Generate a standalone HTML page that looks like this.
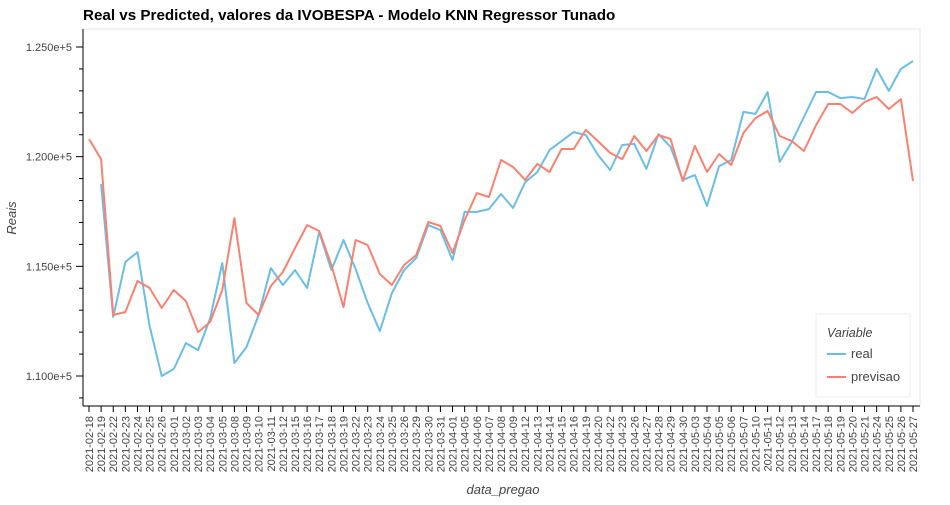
<!DOCTYPE html>
<html><head><meta charset="utf-8"><style>
body{margin:0;background:#fff;}
svg text{font-family:"Liberation Sans",sans-serif;}
</style></head><body>
<svg id="chart" width="950" height="500" xmlns="http://www.w3.org/2000/svg">
<text x="83" y="20" font-size="15.2" font-weight="bold" fill="#000">Real vs Predicted, valores da IVOBESPA - Modelo KNN Regressor Tunado</text>
<rect x="83" y="29" width="837" height="377" fill="none" stroke="#e6e6e6"/>
<g id="yaxis"></g>
<g id="xaxis"></g>
<g id="series"></g>
<text transform="translate(16,218) rotate(-90)" text-anchor="middle" font-size="13" font-style="italic" fill="#444">Reais</text>
<text x="503" y="494" text-anchor="middle" font-size="13" font-style="italic" fill="#444">data_pregao</text>
<g>
<rect x="816" y="314" width="94" height="83" fill="#fff" stroke="#ececec"/>
<text x="827" y="337" font-size="12.5" font-style="italic" fill="#444">Variable</text>
<line x1="827" y1="354" x2="846" y2="354" stroke="#6bbde6" stroke-width="2"/>
<text x="851" y="358" font-size="13" fill="#444">real</text>
<line x1="827" y1="377" x2="846" y2="377" stroke="#fa8170" stroke-width="2"/>
<text x="851" y="381" font-size="13" fill="#444">previsao</text>
</g>
</svg>
<script>
const dates=["02-18","02-19","02-22","02-23","02-24","02-25","02-26","03-01","03-02","03-03","03-04","03-05","03-08","03-09","03-10","03-11","03-12","03-15","03-16","03-17","03-18","03-19","03-22","03-23","03-24","03-25","03-26","03-29","03-30","03-31","04-01","04-05","04-06","04-07","04-08","04-09","04-12","04-13","04-14","04-15","04-16","04-19","04-20","04-22","04-23","04-26","04-27","04-28","04-29","04-30","05-03","05-04","05-05","05-06","05-07","05-10","05-11","05-12","05-13","05-14","05-17","05-18","05-19","05-20","05-21","05-24","05-25","05-26","05-27"];
const realValues=[null,118750,112690,115200,115650,112280,110000,110320,111500,111180,112640,115150,110590,111320,112780,114920,114150,114830,114010,116560,114830,116200,114880,113330,112050,113780,114830,115380,116880,116650,115290,117480,117480,117610,118300,117660,118840,119300,120300,120710,121120,120990,120080,119390,120530,120580,119440,121030,120440,118940,119160,117750,119570,119850,122040,121950,122950,119760,120670,121810,122950,122950,122670,122720,122630,124000,123000,124000,124360];
const previsaoValues=[120800,119890,112780,112920,114330,114010,113100,113920,113420,112000,112460,113920,117200,113330,112780,114100,114740,115830,116880,116610,115060,113140,116200,115970,114650,114150,115060,115510,117020,116840,115610,117110,118340,118160,119850,119530,118940,119670,119300,120350,120350,121220,120710,120170,119890,120940,120260,120990,120800,118890,120490,119300,120120,119620,121080,121760,122080,120940,120710,120260,121440,122400,122400,121990,122490,122720,122170,122630,118890];
const yTickLabels=["1.100e+5","1.150e+5","1.200e+5","1.250e+5"];
const yTickValues=[110000,115000,120000,125000];

const NS="http://www.w3.org/2000/svg";
const X0=89,X1=913,yTop=47,yBot=376;
const xs=i=>X0+(X1-X0)*i/(dates.length-1);
const ys=v=>yBot-(v-110000)/15000*(yBot-yTop);
function mk(t,a,p){const e=document.createElementNS(NS,t);for(const k in a)e.setAttribute(k,a[k]);p.appendChild(e);return e;}
const ya=document.getElementById('yaxis'),xa=document.getElementById('xaxis'),sr=document.getElementById('series');
mk('line',{x1:83,y1:29,x2:83,y2:406,stroke:'#000'},ya);
for(let v=109000;v<=125000;v+=1000){const y=ys(v);const major=v%5000===0;
 const t=mk('line',{x1:major?76:79,y1:y,x2:83,y2:y,stroke:'#000'},ya);
 
 }
yTickValues.forEach((v,i)=>{const t=mk('text',{x:72,y:ys(v)+4,'text-anchor':'end','font-size':'11',fill:'#444'},ya);t.textContent=yTickLabels[i];
 
 });
mk('line',{x1:83,y1:406,x2:920,y2:406,stroke:'#000'},xa);
dates.forEach((d,i)=>{const x=xs(i);
 const t=mk('line',{x1:x,y1:406,x2:x,y2:412,stroke:'#000'},xa);
 
 
 const l=mk('text',{transform:`translate(${x+4},416) rotate(-90)`,'text-anchor':'end','font-size':'11',fill:'#444'},xa);
 l.textContent='2021-'+d;
 
 });
function line(vals,color,name){let d='';vals.forEach((v,i)=>{if(v==null)return;d+=(d?'L':'M')+xs(i).toFixed(1)+','+ys(v).toFixed(1);});
 const p=mk('path',{d:d,fill:'none',stroke:color,'stroke-width':2,'stroke-linejoin':'round'},sr);
 
 }
line(realValues,'#6bbde6','real-line');
line(previsaoValues,'#fa8170','previsao-line');
</script>
</body></html>
